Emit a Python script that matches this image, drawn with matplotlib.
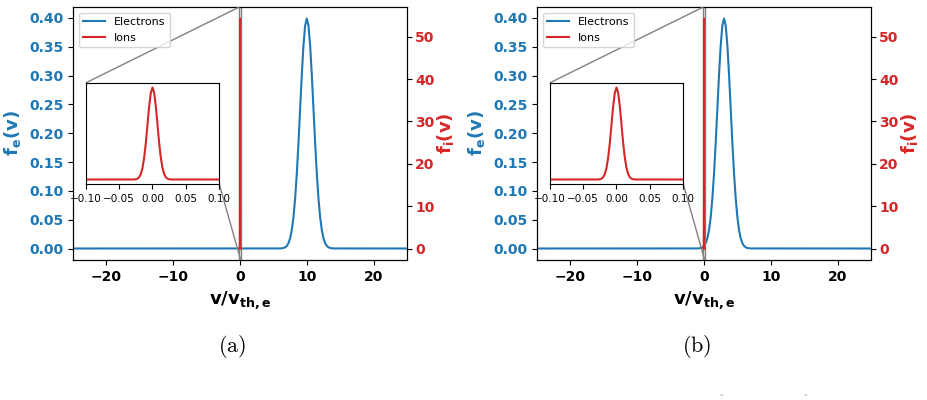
import numpy as np
import matplotlib
matplotlib.use("Agg")
import matplotlib.pyplot as plt
from mpl_toolkits.axes_grid1.inset_locator import mark_inset

fe_peak_shape = [0.0001, 0.0004, 0.0009, 0.0020, 0.0044, 0.0091, 0.0175, 0.0317,
                 0.0540, 0.0863, 0.1295, 0.1826, 0.2420, 0.3011, 0.3521, 0.3867,
                 0.3989,
                 0.3867, 0.3521, 0.3011, 0.2420, 0.1826, 0.1295, 0.0863, 0.0540,
                 0.0317, 0.0175, 0.0091, 0.0044, 0.0020, 0.0009, 0.0004, 0.0001]
fe_offsets = np.arange(-4.0, 4.01, 0.25)
drift = {"a": 10.0, "b": 3.0}

# ion distribution (narrow)
vi = [-0.1, -0.03, -0.0275, -0.025, -0.0225, -0.02, -0.0175, -0.015, -0.0125,
      -0.01, -0.0075, -0.005, -0.0025, 0.0, 0.0025, 0.005, 0.0075, 0.01,
      0.0125, 0.015, 0.0175, 0.02, 0.0225, 0.025, 0.0275, 0.03, 0.1]
fi = [0.0, 0.01, 0.05, 0.17, 0.50, 1.34, 3.19, 6.77, 12.79, 21.52, 32.27,
      43.09, 51.25, 54.3, 51.25, 43.09, 32.27, 21.52, 12.79, 6.77, 3.19,
      1.34, 0.50, 0.17, 0.05, 0.01, 0.0]

captions = ["(a)", "(b)"]

blue = "tab:blue"
red = "tab:red"

plt.rcParams["mathtext.fontset"] = "dejavusans"

fig = plt.figure(figsize=(9.27, 4.0), dpi=100)

panels = [("a", 73, 232), ("b", 537, 697)]
for (key, left_px, cap_px), cap in zip(panels, captions):
    ax = fig.add_axes([left_px / 927, 140 / 400, 334 / 927, 253 / 400])
    ve = [-25.0] + list(drift[key] + fe_offsets) + [25.0]
    fe = [0.0] + fe_peak_shape + [0.0]
    l1, = ax.plot(ve, fe, color=blue, lw=1.5, label="Electrons")
    ax.set_xlim(-25, 25)
    ax.set_xlabel(r"$\mathbf{v/v_{th,e}}$", fontsize=13)
    ax.set_ylabel(r"$\mathbf{f_e(v)}$", fontsize=13, color=blue)
    ax.tick_params(axis="y", labelcolor=blue, labelsize=10)
    ax.tick_params(axis="x", labelsize=10)
    for t in ax.get_xticklabels() + ax.get_yticklabels():
        t.set_fontweight("bold")

    ax2 = ax.twinx()
    l2, = ax2.plot(vi, fi, color=red, lw=1.5, label="Ions")
    ax2.set_ylabel(r"$\mathbf{f_i(v)}$", fontsize=13, color=red, labelpad=0)
    ax2.tick_params(axis="y", labelcolor=red, labelsize=10, pad=2.5)
    for t in ax2.get_yticklabels():
        t.set_fontweight("bold")

    ax2.legend([l1, l2], ["Electrons", "Ions"], loc="upper left", fontsize=8)

    axins = ax2.inset_axes([0.038, 0.3, 0.4, 0.4])
    axins.plot(vi, fi, color=red, lw=1.5)
    axins.set_xlim(-0.1, 0.1)
    axins.set_yticks([])
    axins.tick_params(axis="x", labelsize=7.5)
    mark_inset(ax2, axins, loc1=2, loc2=4, fc="none", ec="0.5")

    fig.text(cap_px / 927, 1 - 346 / 400, r"$\mathrm{" + cap + "}$",
             ha="center", va="center", fontsize=16, math_fontfamily="cm")

# only the accents of the next caption line show above the page edge
for hx in [722, 806]:
    fig.text(hx / 927, 1 - 399 / 400, r"$\hat{\ }$", ha="center", va="bottom",
             fontsize=8, color="0.35", math_fontfamily="cm")

fig.savefig("out.png", dpi=100)
